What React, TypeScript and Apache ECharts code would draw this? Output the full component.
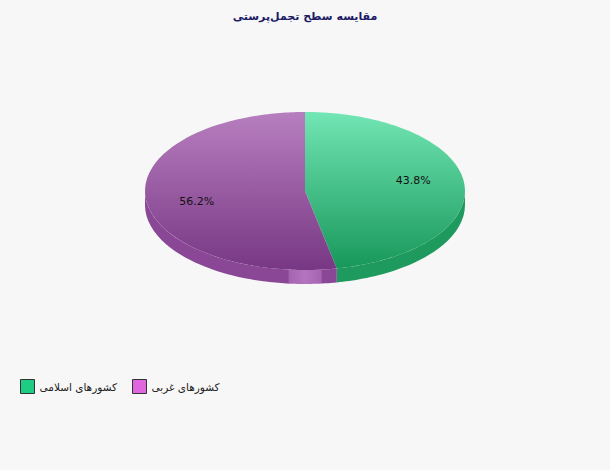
import React, { useEffect, useRef } from 'react';
import * as echarts from 'echarts';

// داده‌ها
const categories = ['کشورهای اسلامی', 'کشورهای غربی'];
const shares = [43.8, 56.2];
const topColors = [
  ['#72e6b4', '#17975a'],
  ['#b77fbf', '#783784'],
];
const sideColors = ['#1f9a5e', '#8a4795'];
const legendColors = ['#1fcc84', '#e066e0'];
const titleText = 'مقایسه سطح تجمل‌پرستی';

// هندسه بیضی
const CX = 305;
const CY = 191;
const RX = 160;
const RY = 79;
const DEPTH = 14;

const rad = (d: number) => (d * Math.PI) / 180;

// نقطه روی لبه بیضی برای زاویه صفحه (ساعتگرد از بالا)
const edgePoint = (deg: number, dy = 0) => {
  const s = Math.sin(rad(deg));
  const c = Math.cos(rad(deg));
  const r = 1 / Math.sqrt((s / RX) ** 2 + (c / RY) ** 2);
  return [CX + r * s, CY - r * c + dy];
};

const arcPoints = (a0: number, a1: number, dy = 0) => {
  const pts: number[][] = [];
  const steps = Math.max(2, Math.ceil((a1 - a0) / 2));
  for (let i = 0; i <= steps; i++) {
    pts.push(edgePoint(a0 + ((a1 - a0) * i) / steps, dy));
  }
  return pts;
};

const App: React.FC = () => {
  const chartRef = useRef<HTMLDivElement>(null);

  useEffect(() => {
    if (!chartRef.current) return;
    const chart = echarts.init(chartRef.current, null, { renderer: 'svg' });

    const total = shares.reduce((a, b) => a + b, 0);
    const starts: number[] = [];
    let acc = 0;
    shares.forEach((v) => {
      starts.push((acc / total) * 360);
      acc += v;
    });

    const renderSlice = (params: any, api: any) => {
      const i = params.seriesIndex;
      const value = api.value(0);
      const a0 = starts[i];
      const a1 = a0 + (value / total) * 360;
      const children: any[] = [];

      // دیواره جلویی
      const s = Math.max(a0, 90);
      const e = Math.min(a1, 270);
      if (e > s) {
        const upper = arcPoints(s, e);
        const lower = arcPoints(s, e, DEPTH).reverse();
        const sideFill =
          i === 1
            ? new echarts.graphic.LinearGradient(145, 0, 338, 0, [
                { offset: 0, color: sideColors[1] },
                { offset: 0.74, color: sideColors[1] },
                { offset: 0.75, color: '#a565b1' },
                { offset: 0.83, color: '#b574c0' },
                { offset: 0.91, color: '#a565b1' },
                { offset: 0.92, color: sideColors[1] },
                { offset: 1, color: sideColors[1] },
              ], true)
            : sideColors[i];
        children.push({
          type: 'polygon',
          shape: { points: upper.concat(lower) },
          style: { fill: sideFill },
        });
      }

      // سطح بالایی
      const top = [[CX, CY]].concat(arcPoints(a0, a1));
      children.push({
        type: 'polygon',
        shape: { points: top },
        style: {
          fill: new echarts.graphic.LinearGradient(0, CY - RY, 0, CY + RY, [
            { offset: 0, color: topColors[i][0] },
            { offset: 1, color: topColors[i][1] },
          ], true),
        },
      });

      // برچسب درصد
      const mid = (a0 + a1) / 2;
      children.push({
        type: 'text',
        x: CX + 0.69 * RX * Math.sin(rad(mid)),
        y: CY - 0.69 * RY * Math.cos(rad(mid)),
        style: {
          text: ((value / total) * 100).toFixed(1) + '%',
          fill: '#111',
          font: '11px "DejaVu Sans", Verdana, sans-serif',
          align: 'center',
          verticalAlign: 'middle',
        },
      });

      return { type: 'group', children };
    };

    const option = {
      animation: false,
      backgroundColor: '#f7f7f7',
      title: {
        text: titleText,
        left: 'center',
        top: 6,
        textStyle: {
          fontSize: 11,
          fontWeight: 'bold',
          color: '#1b1b66',
          fontFamily: '"DejaVu Sans", Tahoma, sans-serif',
        },
      },
      legend: {
        left: 15,
        top: 374,
        itemWidth: 14,
        itemHeight: 14,
        itemGap: 15,
        icon: 'rect',
        textStyle: {
          fontSize: 10.5,
          color: '#222',
          fontFamily: '"DejaVu Sans", Tahoma, sans-serif',
        },
        data: categories.map((name, i) => ({
          name,
          itemStyle: { color: legendColors[i], borderColor: '#333', borderWidth: 1 },
        })),
      },
      series: categories.map((name, i) => ({
        name,
        type: 'custom',
        coordinateSystem: 'none',
        data: [[shares[i]]],
        renderItem: renderSlice,
      })),
    };

    chart.setOption(option as any);

    return () => {
      chart.dispose();
    };
  }, []);

  return (
    <div
      ref={chartRef}
      style={{ position: 'fixed', left: 0, top: 0, width: '610px', height: '470px' }}
    ></div>
  );
};

export default App;
